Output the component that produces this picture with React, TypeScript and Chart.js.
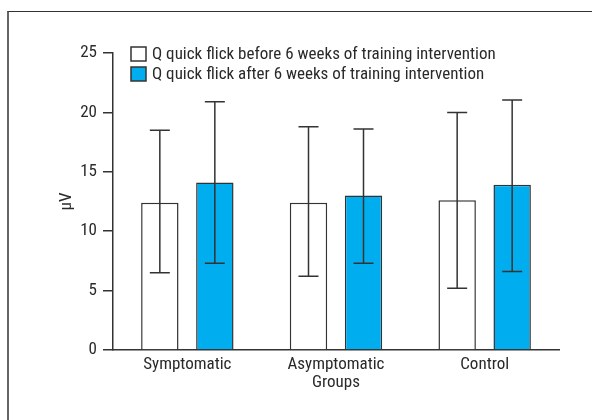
import React, { useEffect, useRef } from "react";
import { Chart, registerables } from "chart.js";

Chart.register(...registerables);

const categories = ["Symptomatic", "Asymptomatic", "Control"];
const seriesLabels = [
  "Q quick flick before 6 weeks of training intervention",
  "Q quick flick after 6 weeks of training intervention",
];
const beforeMeans = [12.4, 12.4, 12.6];
const beforeLow = [6.5, 6.2, 5.2];
const beforeHigh = [18.5, 18.8, 20.0];
const afterMeans = [14.1, 13.0, 13.9];
const afterLow = [7.3, 7.3, 6.6];
const afterHigh = [20.9, 18.6, 21.05];
const yTicks = [0, 5, 10, 15, 20, 25];

const FONT = "'Liberation Sans Narrow', 'Roboto Condensed', 'DejaVu Sans Condensed', 'Arial Narrow', sans-serif";
const FS = 17;
const INK = "#333333";
const TEXT = "#2a2a2a";
const BLUE = "#00AEEF";

const errorBarPlugin = {
  id: "errorBars",
  afterDatasetsDraw(chart: any) {
    const ctx = chart.ctx;
    const yScale = chart.scales.y;
    ctx.save();
    ctx.strokeStyle = INK;
    ctx.lineWidth = 1.5;
    chart.data.datasets.forEach((ds: any, di: number) => {
      const meta = chart.getDatasetMeta(di);
      meta.data.forEach((el: any, i: number) => {
        const x = el.x;
        const yT = yScale.getPixelForValue(ds.errHigh[i]);
        const yB = yScale.getPixelForValue(ds.errLow[i]);
        const cap = 10;
        ctx.beginPath();
        ctx.moveTo(x, yB);
        ctx.lineTo(x, yT);
        ctx.moveTo(x - cap, yT);
        ctx.lineTo(x + cap, yT);
        ctx.moveTo(x - cap, yB);
        ctx.lineTo(x + cap, yB);
        ctx.stroke();
      });
    });
    ctx.restore();
  },
};

const legendPlugin = {
  id: "insideLegend",
  afterDraw(chart: any) {
    const ctx = chart.ctx;
    const area = chart.chartArea;
    ctx.save();
    ctx.font = `${FS}px ${FONT}`;
    ctx.textBaseline = "middle";
    ctx.textAlign = "left";
    chart.data.datasets.forEach((ds: any, i: number) => {
      const x = area.left + 18;
      const y = area.top - 6 + i * 20;
      ctx.fillStyle = ds.backgroundColor;
      ctx.fillRect(x, y, 15, 14);
      ctx.strokeStyle = INK;
      ctx.lineWidth = 1.5;
      ctx.strokeRect(x, y, 15, 14);
      ctx.fillStyle = TEXT;
      ctx.fillText(ds.label, x + 21, y + 7.5);
    });
    ctx.restore();
  },
};

export default function App() {
  const ref = useRef<HTMLCanvasElement | null>(null);
  useEffect(() => {
    if (!ref.current) return;
    const chart = new Chart(ref.current, {
      type: "bar",
      data: {
        labels: categories,
        datasets: [
          {
            label: seriesLabels[0],
            data: beforeMeans,
            backgroundColor: "#ffffff",
            borderColor: INK,
            borderWidth: 1.5,
            errLow: beforeLow,
            errHigh: beforeHigh,
          } as any,
          {
            label: seriesLabels[1],
            data: afterMeans,
            backgroundColor: BLUE,
            borderColor: INK,
            borderWidth: 1.5,
            errLow: afterLow,
            errHigh: afterHigh,
          } as any,
        ],
      },
      options: {
        responsive: false,
        animation: false,
        devicePixelRatio: 1,
        categoryPercentage: 0.74,
        barPercentage: 0.68,
        layout: { padding: { left: 0, top: 53, right: 33, bottom: 0 } },
        plugins: {
          legend: { display: false },
          tooltip: { enabled: false },
        },
        scales: {
          x: {
            offset: true,
            grid: { display: true, drawOnChartArea: false, drawTicks: false },
            border: { display: true, color: INK, width: 1.5 },
            ticks: { color: TEXT, padding: 5, font: { family: FONT, size: FS }, maxRotation: 0 },
            title: {
              display: true,
              text: "Groups",
              color: TEXT,
              font: { family: FONT, size: FS },
              padding: { top: 0, bottom: 27 },
            },
            afterFit(scale: any) {
              scale.height = 70;
            },
          },
          y: {
            min: 0,
            max: 25,
            afterBuildTicks(scale: any) {
              scale.ticks = yTicks.map((v) => ({ value: v }));
            },
            grid: { drawOnChartArea: false, drawTicks: true, tickLength: 10, color: INK, lineWidth: 1.5 },
            border: { display: true, color: INK, width: 1.5 },
            ticks: { color: TEXT, padding: 6, font: { family: FONT, size: FS } },
            title: {
              display: true,
              text: "μV",
              color: TEXT,
              font: { family: FONT, size: FS },
              padding: { top: 57, bottom: 0 },
            },
            afterFit(scale: any) {
              scale.width = 113;
            },
          },
        },
      } as any,
      plugins: [errorBarPlugin, legendPlugin],
    });
    return () => chart.destroy();
  }, []);

  return (
    <div>
      <div
        style={{
          position: "fixed",
          left: 7,
          top: 11,
          width: 800,
          height: 600,
          borderTop: "1px solid #333",
          borderLeft: "2px solid #666",
          boxSizing: "border-box",
        }}
      />
      <canvas
        ref={ref}
        width={592}
        height={420}
        style={{ position: "fixed", left: 0, top: 0, width: 592, height: 420 }}
      />
    </div>
  );
}
